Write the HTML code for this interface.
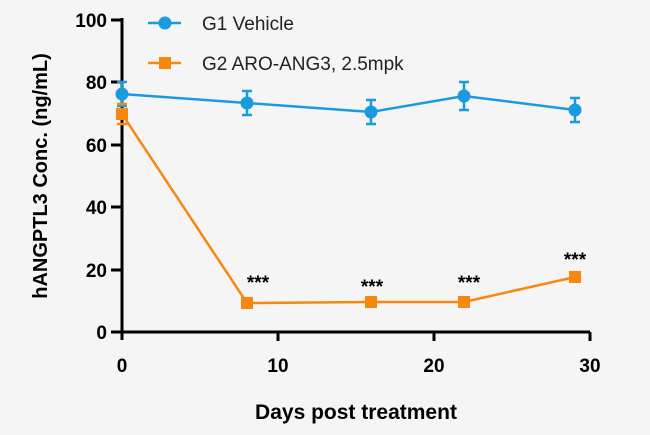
<!DOCTYPE html>
<html><head><style>body{margin:0;background:#f5f5f5}</style></head><body>
<svg width="650" height="430" xmlns="http://www.w3.org/2000/svg" font-family="Liberation Sans, sans-serif">
<rect width="650" height="430" fill="#f5f5f5"/>
<g stroke="#000" stroke-width="3" fill="none">
<path d="M122 18V340M122 332H590"/>
<path d="M111 20H122M111 82H122M111 145H122M111 207H122M111 270H122M111 332H122"/>
<path d="M278 332V341M434 332V341M590 332V341"/>
</g>
<g font-size="19" font-weight="bold" text-anchor="end">
<text x="107" y="27">100</text><text x="107" y="89">80</text><text x="107" y="152">60</text>
<text x="107" y="214">40</text><text x="107" y="277">20</text><text x="107" y="339">0</text>
</g>
<g font-size="19" font-weight="bold" text-anchor="middle">
<text x="122" y="372">0</text><text x="278" y="372">10</text><text x="434" y="372">20</text><text x="590" y="372">30</text>
<text x="356" y="419" font-size="21">Days post treatment</text>
<text transform="translate(47,176) rotate(-90)" font-size="20">hANGPTL3 Conc. (ng/mL)</text>
</g>
<g stroke="#1a9be0" stroke-width="2.5" fill="none">
<polyline points="122,94 247,103 371,112 464,96 575,110"/>
<path d="M122 82V106M117 82H127M117 106H127M247 91V115M242 91H252M242 115H252M371 100V124M366 100H376M366 124H376M464 82V110M459 82H469M459 110H469M575 98V122M570 98H580M570 122H580"/>
<path d="M148 23H181"/>
</g>
<g fill="#1a9be0">
<circle cx="122" cy="94" r="6.5"/><circle cx="247" cy="103" r="6.5"/><circle cx="371" cy="112" r="6.5"/><circle cx="464" cy="96" r="6.5"/><circle cx="575" cy="110" r="6.5"/><circle cx="165" cy="23" r="6.5"/>
</g>
<g stroke="#f7880f" stroke-width="2.5" fill="none">
<polyline points="122,114 247,303 371,302 464,302 575,277"/>
<path d="M117 104H127M117 124H127M148 63H181"/>
</g>
<g fill="#f7880f">
<rect x="116" y="108" width="12" height="12"/><rect x="241" y="297" width="12" height="12"/><rect x="365" y="296" width="12" height="12"/><rect x="458" y="296" width="12" height="12"/><rect x="569" y="271" width="12" height="12"/><rect x="159" y="57" width="12" height="12"/>
</g>
<g font-size="19" font-weight="bold" text-anchor="middle">
<text x="258" y="289">***</text><text x="372" y="293">***</text><text x="469" y="289">***</text><text x="575" y="266">***</text>
</g>
<g font-size="19" fill="#222">
<text x="202" y="30">G1 Vehicle</text><text x="202" y="70">G2 ARO-ANG3, 2.5mpk</text>
</g>
</svg>
</body></html>
